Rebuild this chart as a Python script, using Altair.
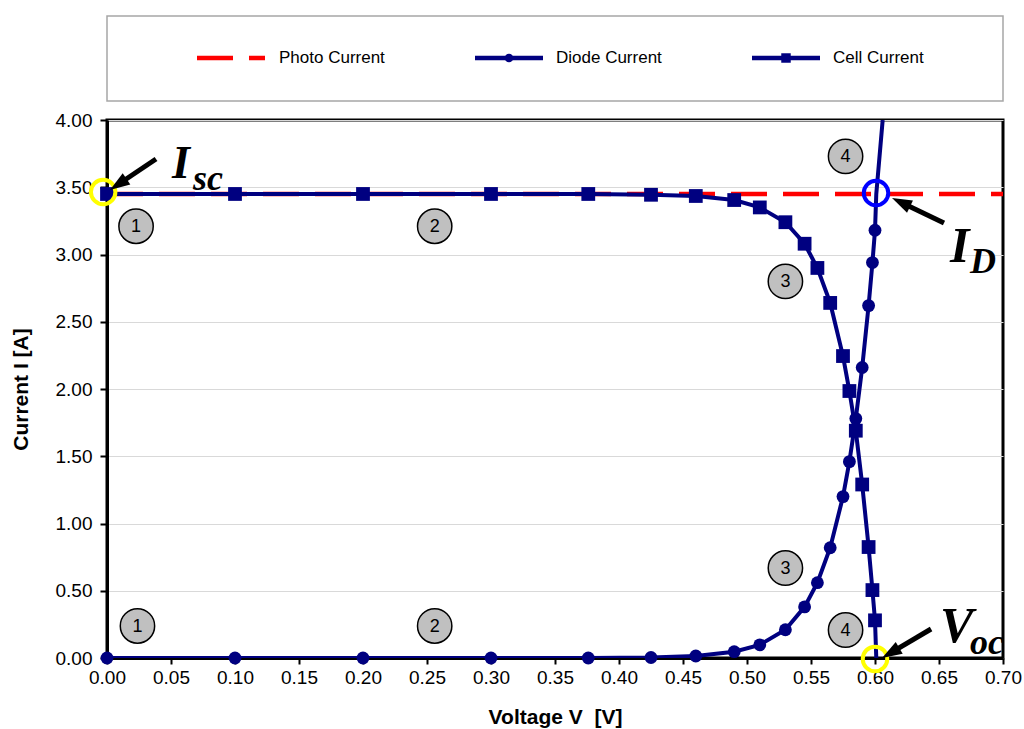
import math
import altair as alt
import pandas as pd

# ---------------- data ----------------
voltage = [0.0, 0.10, 0.20, 0.30, 0.376, 0.425, 0.46, 0.49, 0.51, 0.53,
           0.545, 0.555, 0.565, 0.575, 0.58, 0.585, 0.59, 0.595, 0.598, 0.60]
diode_current = [0.0, 0.0, 0.0, 0.0, 0.0, 0.004, 0.015, 0.047, 0.098, 0.21,
                 0.38, 0.56, 0.82, 1.20, 1.46, 1.78, 2.16, 2.62, 2.94, 3.18]
cell_current = [3.45, 3.45, 3.45, 3.45, 3.45, 3.444, 3.435, 3.405, 3.35, 3.24,
                3.08, 2.90, 2.64, 2.245, 1.985, 1.69, 1.29, 0.825, 0.505, 0.28]

# line continuations beyond the last marker (no marker drawn)
diode_tail_voltage = [0.601, 0.606]
diode_tail_current = [3.45, 4.0]
cell_tail_voltage = [0.601]
cell_tail_current = [0.0]

photo_voltage = [0.0, 0.70]
photo_current = [3.45, 3.45]

series_names = ["Photo Current", "Diode Current", "Cell Current"]

# numbered region badges
badge_voltage = [0.0227, 0.256, 0.530, 0.577, 0.0238, 0.256, 0.530, 0.577]
badge_current = [3.21, 3.21, 2.80, 3.73, 0.238, 0.238, 0.669, 0.208]
badge_label = ["1", "2", "3", "4", "1", "2", "3", "4"]

# highlight rings (Isc, Voc, ID)
ring_voltage = [-0.003, 0.600, 0.6008]
ring_current = [3.465, -0.007, 3.457]
ring_color = ["#ffff00", "#ffff00", "#0000ff"]

# arrows: tail -> tip
arrow_tail_v = [0.0383, 0.6539, 0.6438]
arrow_tail_i = [3.710, 3.234, 0.2156]
arrow_tip_v = [0.0023, 0.6133, 0.6055]
arrow_tip_i = [3.480, 3.420, 0.0]

# annotation labels (main letter + subscript)
label_text = ["I", "sc", "I", "D", "V", "oc"]
label_v = [0.0508, 0.0672, 0.6586, 0.6742, 0.6508, 0.6742]
label_i = [3.569, 3.48, 2.944, 2.862, 0.119, 0.03]
label_size = [46, 36, 50, 36, 50, 36]

# ---------------- layout ----------------
PLOT_W, PLOT_H = 896, 538
X_MAX, Y_MAX = 0.70, 4.0
NAVY = "#000080"
RED = "#ff0000"
SANS = "Liberation Sans"
SERIF = "Liberation Serif"

xs = alt.Scale(domain=[0, X_MAX], nice=False, zero=False)
ys = alt.Scale(domain=[0, Y_MAX], nice=False, zero=False)

x_ticks = [round(0.05 * k, 2) for k in range(15)]
y_ticks = [round(0.5 * k, 2) for k in range(9)]

x_axis = alt.Axis(values=x_ticks, format=".2f", title="Voltage V\u00a0 [V]", grid=False,
                  tickSize=6, labelPadding=4, titlePadding=19, labelFlush=False,
                  labelOverlap=False)
y_axis = alt.Axis(values=y_ticks, format=".2f", title="Current I [A]", grid=True,
                  tickSize=7, labelPadding=8, titlePadding=24, labelFlush=False,
                  labelOverlap=False)


def xy(xf="v", yf="i"):
    return dict(x=alt.X(f"{xf}:Q", scale=xs, axis=x_axis),
                y=alt.Y(f"{yf}:Q", scale=ys, axis=y_axis))


photo_df = pd.DataFrame({"v": photo_voltage, "i": photo_current})
diode_line_df = pd.DataFrame({"v": voltage + diode_tail_voltage,
                              "i": diode_current + diode_tail_current})
diode_pts_df = pd.DataFrame({"v": voltage, "i": diode_current})
cell_line_df = pd.DataFrame({"v": voltage + cell_tail_voltage,
                             "i": cell_current + cell_tail_current})
cell_pts_df = pd.DataFrame({"v": voltage, "i": cell_current})

photo = alt.Chart(photo_df).mark_line(color=RED, strokeWidth=4.5, strokeDash=[36, 16]).encode(**xy())
diode_line = alt.Chart(diode_line_df).mark_line(color=NAVY, strokeWidth=4, clip=True).encode(**xy())
diode_pts = alt.Chart(diode_pts_df).mark_point(shape="circle", filled=True, color=NAVY,
                                               size=165, opacity=1).encode(**xy())
cell_line = alt.Chart(cell_line_df).mark_line(color=NAVY, strokeWidth=4, clip=True).encode(**xy())
cell_pts = alt.Chart(cell_pts_df).mark_point(shape="square", filled=True, color=NAVY,
                                             size=190, opacity=1).encode(**xy())

badge_df = pd.DataFrame({"v": badge_voltage, "i": badge_current, "t": badge_label})
badges = alt.Chart(badge_df).mark_point(shape="circle", filled=True, fill="#c0c0c0",
                                        stroke="black", strokeWidth=1.5, size=1180,
                                        opacity=1, fillOpacity=1).encode(**xy())
badge_txt = alt.Chart(badge_df).mark_text(font=SANS, fontSize=18, color="black",
                                          baseline="middle", align="center", dy=1).encode(
    text="t:N", **xy())

ring_df = pd.DataFrame({"v": ring_voltage, "i": ring_current, "c": ring_color})
rings = alt.Chart(ring_df).mark_point(shape="circle", filled=False, strokeWidth=4,
                                      size=600, opacity=1).encode(
    color=alt.Color("c:N", scale=None), **xy())

# arrows: compute head angles and slightly shortened shafts in pixel space
kx, ky = PLOT_W / X_MAX, PLOT_H / Y_MAX
rows = []
for tv, ti, pv, pi in zip(arrow_tail_v, arrow_tail_i, arrow_tip_v, arrow_tip_i):
    dx = (pv - tv) * kx
    dy = -(pi - ti) * ky
    L = math.hypot(dx, dy)
    ang = math.degrees(math.atan2(dx, -dy)) % 360
    back = 12.0
    ev = pv - dx / L * back / kx
    ei = pi + dy / L * back / ky
    rows.append({"v": tv, "i": ti, "v2": ev, "i2": ei, "hv": pv, "hi": pi, "a": ang})
arrow_df = pd.DataFrame(rows)
shafts = alt.Chart(arrow_df).mark_rule(color="black", strokeWidth=5).encode(
    x2="v2:Q", y2="i2:Q", **xy())
heads = alt.Chart(arrow_df).mark_point(shape="M0,0L0.65,1.9L-0.65,1.9Z", filled=True,
                                       color="black", size=441, opacity=1).encode(
    angle=alt.Angle("a:Q", scale=None), **xy("hv", "hi"))

label_df = pd.DataFrame({"v": label_v, "i": label_i, "t": label_text, "s": label_size})
labels = alt.Chart(label_df).mark_text(font=SERIF, fontStyle="italic", fontWeight="bold",
                                       color="black", align="left",
                                       baseline="alphabetic").encode(
    text="t:N", size=alt.Size("s:Q", scale=None, legend=None), **xy())

# ---------------- legend box (above plot) ----------------
one = pd.DataFrame({"k": [0]})
LEG_Y = -62
legend_layers = [
    alt.Chart(one).mark_rect(fill="white", stroke="#a6a6a6", strokeWidth=1.5).encode(
        x=alt.value(0), x2=alt.value(PLOT_W), y=alt.value(-104), y2=alt.value(-19)),
    alt.Chart(one).mark_rule(color=RED, strokeWidth=4.5, strokeDash=[36, 16]).encode(
        x=alt.value(90), x2=alt.value(158), y=alt.value(LEG_Y)),
    alt.Chart(one).mark_rule(color=NAVY, strokeWidth=4.5).encode(
        x=alt.value(368), x2=alt.value(436), y=alt.value(LEG_Y)),
    alt.Chart(one).mark_point(shape="circle", filled=True, color=NAVY, size=75, opacity=1).encode(
        x=alt.value(402), y=alt.value(LEG_Y)),
    alt.Chart(one).mark_rule(color=NAVY, strokeWidth=4.5).encode(
        x=alt.value(645), x2=alt.value(713), y=alt.value(LEG_Y)),
    alt.Chart(one).mark_point(shape="square", filled=True, color=NAVY, size=90, opacity=1).encode(
        x=alt.value(679), y=alt.value(LEG_Y)),
]
for name, tx in zip(series_names, [172, 449, 726]):
    legend_layers.append(
        alt.Chart(one).mark_text(font=SANS, fontSize=17, align="left", baseline="middle",
                                 color="black").encode(
            x=alt.value(tx), y=alt.value(LEG_Y), text=alt.value(name)))

chart = alt.layer(
    photo, diode_line, cell_line, diode_pts, cell_pts,
    badges, badge_txt, rings, shafts, heads, labels,
    *legend_layers,
).properties(
    width=PLOT_W, height=PLOT_H,
    autosize=alt.AutoSizeParams(type="none"),
    padding={"left": 107, "top": 120, "right": 21, "bottom": 71},
    background="white",
).configure_view(
    stroke="black", strokeWidth=3,
).configure_axis(
    domainColor="black", domainWidth=3, tickColor="black", tickWidth=2,
    gridColor="#d9d9d9", gridWidth=1,
    labelFont=SANS, labelFontSize=19, labelColor="black",
    titleFont=SANS, titleFontSize=21, titleFontWeight="bold", titleColor="black",
)

chart.save("out.html", embed_options={"renderer": "svg", "actions": False})
